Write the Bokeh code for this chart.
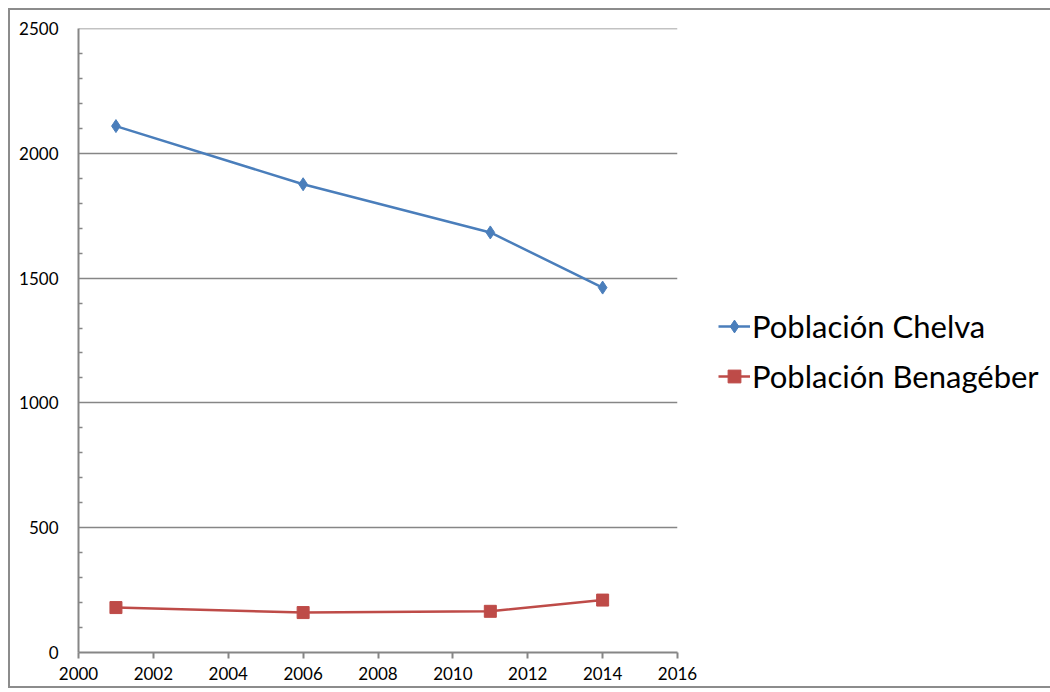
from bokeh.plotting import figure
from bokeh.models import Legend, LegendItem, FixedTicker, Range1d, Span
from bokeh.embed import file_html
from bokeh.resources import INLINE

years = [2001, 2006, 2011, 2014]
chelva = [2109, 1876, 1683, 1462]
benageber = [180, 160, 165, 210]
x_ticks = [2000, 2002, 2004, 2006, 2008, 2010, 2012, 2014, 2016]
y_ticks = [0, 500, 1000, 1500, 2000, 2500]
y_minor = [v for v in range(0, 2501, 100) if v % 500 != 0]

FONT = "Lato"
GRAY = "#868686"

p = figure(frame_width=599, frame_height=624, output_backend="svg", toolbar_location=None,
           x_range=Range1d(2000, 2016), y_range=Range1d(0, 2500),
           min_border_left=68, min_border_top=18, min_border_right=363, min_border_bottom=34)
p.styles = {"border": "2px solid #8c8c8c", "box-sizing": "border-box",
            "margin-left": "8px", "margin-top": "8px"}
p.outline_line_color = None
p.background_fill_color = "white"

p.xgrid.grid_line_color = None
p.ygrid.grid_line_color = GRAY
p.ygrid.grid_line_width = 1.5
p.add_layout(Span(location=2500, dimension="width", line_color=GRAY, line_width=1.5))

p.xaxis.ticker = FixedTicker(ticks=x_ticks)
p.yaxis.ticker = FixedTicker(ticks=y_ticks, minor_ticks=y_minor)

for ax in (p.xaxis, p.yaxis):
    ax.axis_line_color = GRAY
    ax.axis_line_width = 2
    ax.major_tick_line_color = GRAY
    ax.major_tick_line_width = 2
    ax.minor_tick_line_color = GRAY
    ax.minor_tick_line_width = 1.5
    ax.major_label_text_font = FONT
    ax.major_label_text_font_size = "17px"
    ax.major_label_text_color = "black"

p.xaxis.major_tick_in = 0
p.xaxis.major_tick_out = 6
p.xaxis.minor_tick_in = 0
p.xaxis.minor_tick_out = 0
p.xaxis.major_label_standoff = 8

p.yaxis.major_tick_in = 0
p.yaxis.major_tick_out = 0
p.yaxis.minor_tick_in = 4
p.yaxis.minor_tick_out = 0
p.yaxis.major_label_standoff = 20

BLUE = "#4A7EBB"
RED = "#BE4B48"

l1 = p.line(years, chelva, line_color=BLUE, line_width=2.5)
m1 = p.scatter(years, chelva, marker="diamond", size=13, fill_color=BLUE, line_color=BLUE)
l2 = p.line(years, benageber, line_color=RED, line_width=2.5)
m2 = p.scatter(years, benageber, marker="square", size=12, fill_color=RED, line_color=RED)

legend = Legend(items=[LegendItem(label="Población Chelva", renderers=[l1, m1]),
                       LegendItem(label="Población Benagéber", renderers=[l2, m2])],
                location=(41, 256))
legend.border_line_color = None
legend.background_fill_alpha = 0
legend.label_text_font = FONT
legend.label_text_font_size = "31px"
legend.label_text_color = "black"
legend.glyph_width = 32
legend.glyph_height = 40
legend.label_standoff = 2
legend.spacing = 10
legend.padding = 0
legend.margin = 0
p.add_layout(legend, "right")

open("out.html", "w").write(file_html(p, INLINE))
